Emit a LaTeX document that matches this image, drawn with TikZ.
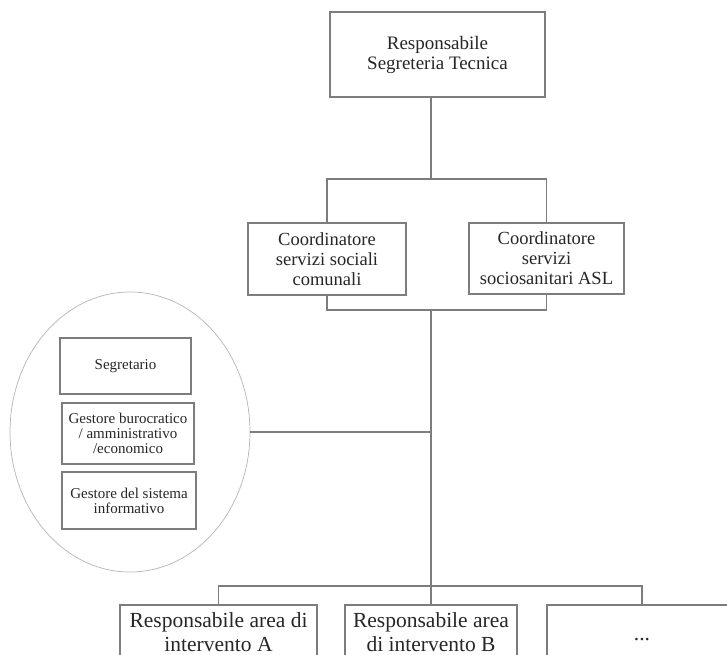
\documentclass[tikz,border=0pt]{standalone}
\usepackage{fontspec}
\setmainfont{Liberation Serif}
\usetikzlibrary{shapes.geometric}
\definecolor{linegray}{RGB}{125,125,125}
\definecolor{ringgray}{RGB}{180,180,180}

\begin{document}
\begin{tikzpicture}[x=1pt, y=-1pt,
    every node/.style={align=center, inner sep=0pt, text=black!85},
    box/.style={draw=linegray, line width=1.1pt, rectangle},
    link/.style={draw=linegray, line width=1.1pt},
    toptext/.style={font=\fontsize{19}{20}\selectfont},
    headtext/.style={font=\fontsize{18.5}{20}\selectfont},
    stafftext/.style={font=\fontsize{15}{15}\selectfont},
    areatext/.style={font=\fontsize{21.5}{24}\selectfont}]
            \useasboundingbox (0, 0) rectangle (727, 654);
            \clip (0, 0) rectangle (727, 654);
            \node[box, toptext, minimum width=215, minimum height=85] (resp) at (437.5, 54.5) {Responsabile\\Segreteria Tecnica};
            \node[box, headtext, minimum width=158, minimum height=72] (coordcom) at (327, 259) {Coordinatore\\servizi sociali\\comunali};
            \node[box, headtext, minimum width=155, minimum height=71] (coordasl) at (546.5, 258.5) {Coordinatore\\servizi\\sociosanitari ASL};
            \node[ellipse, draw=ringgray, line width=0.7pt, minimum width=240, minimum height=280] (staff) at (130, 432) {};
            \node[box, stafftext, minimum width=131, minimum height=56] (segr) at (125.5, 366) {Segretario};
            \node[box, stafftext, minimum width=132, minimum height=61] (buro) at (128, 433.5) {Gestore burocratico\\/ amministrativo\\/economico};
            \node[box, stafftext, minimum width=134, minimum height=57] (info) at (129, 500.5) {Gestore del sistema\\informativo};
            \node[box, areatext, minimum width=197, minimum height=54] (areaA) at (218.5, 632) {Responsabile area di\\intervento A};
            \node[box, areatext, minimum width=172, minimum height=54] (areaB) at (431, 632) {Responsabile area\\di intervento B};
            \node[box, areatext, minimum width=190, minimum height=70] (areaC) at (642, 640) {...};
            \coordinate (topfork) at (431, 179);
            \coordinate (midfork) at (431, 310);
            \coordinate (lowfork) at (431, 586);
            \draw[link] (resp.south -| topfork) -- (topfork);
            \draw[link] (coordcom.north) -- (coordcom.north |- topfork) -- (coordasl.north |- topfork) -- (coordasl.north);
            \draw[link] (coordcom.south) -- (coordcom.south |- midfork) -- (coordasl.south |- midfork) -- (coordasl.south);
            \draw[link] (midfork) -- (lowfork);
            \draw[link] (staff.east) -- (staff.east -| midfork);
            \draw[link] (areaA.north) -- (areaA.north |- lowfork) -- (areaC.north |- lowfork) -- (areaC.north);
            \draw[link] (lowfork) -- (areaB.north);
        \end{tikzpicture}
\end{document}
